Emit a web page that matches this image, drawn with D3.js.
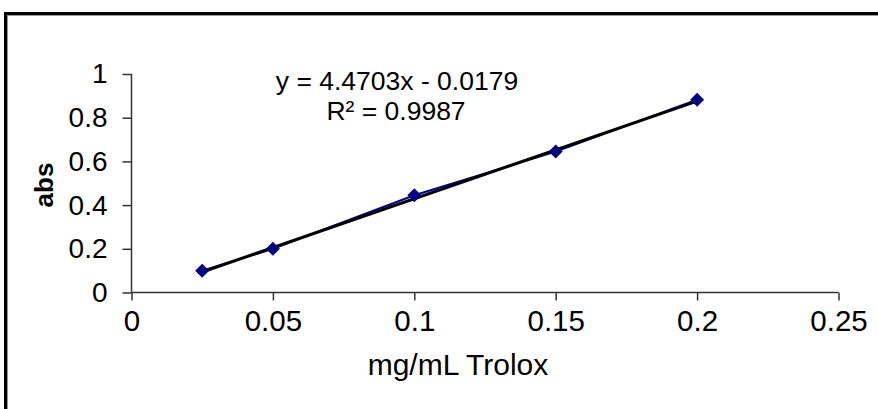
<!DOCTYPE html>
<html>
<head>
<meta charset="utf-8">
<script src="https://cdn.jsdelivr.net/npm/d3@7"></script>
<style>
  body { margin: 0; background: #fff; }
  text { font-family: "Liberation Sans", Arial, sans-serif; fill: #000; }
</style>
</head>
<body>
<div id="chart"></div>
<script>
// standard curve points
const conc = [0.025, 0.05, 0.1, 0.15, 0.2];
const absorb = [0.1, 0.2, 0.445, 0.645, 0.882];

// linear trendline as printed on the chart
const slope = 4.4703;
const intercept = -0.0179;
const r2 = 0.9987;

const xTicks = [0, 0.05, 0.1, 0.15, 0.2, 0.25];
const yTicks = [0, 0.2, 0.4, 0.6, 0.8, 1];

const W = 878, H = 409;
const svg = d3.select('#chart').append('svg')
  .attr('width', W)
  .attr('height', H);

// outer chart frame (runs off the right and bottom edge)
svg.append('rect')
  .attr('x', 5.5).attr('y', 13.5)
  .attr('width', 1000).attr('height', 600)
  .attr('fill', 'none')
  .attr('stroke', '#000')
  .attr('stroke-width', 3);
svg.append('rect')
  .attr('x', 7.5).attr('y', 15.5)
  .attr('width', 1000).attr('height', 600)
  .attr('fill', 'none')
  .attr('stroke', '#999')
  .attr('stroke-width', 1);

// scales
const x = d3.scaleLinear().domain([0, 0.25]).range([131.5, 838.5]);
const y = d3.scaleLinear().domain([0, 1]).range([292.5, 74]);

// axes
const xAxis = svg.append('g')
  .attr('transform', 'translate(0,292.5)')
  .call(d3.axisBottom(x).tickValues(xTicks).tickSize(8).tickPadding(10)
    .tickFormat(d => d3.format('')(d)));
const yAxis = svg.append('g')
  .attr('transform', 'translate(131.5,0)')
  .call(d3.axisLeft(y).tickValues(yTicks).tickSize(9).tickPadding(15)
    .tickFormat(d => d3.format('')(d)));

[xAxis, yAxis].forEach(a => {
  a.select('.domain').attr('stroke', '#333').attr('stroke-width', 1.5);
  a.selectAll('.tick line').attr('stroke', '#333').attr('stroke-width', 1.5);
  a.selectAll('.tick text')
    .attr('font-family', '"Liberation Sans", Arial, sans-serif')
    .attr('fill', '#000');
});
xAxis.selectAll('.tick text').attr('font-size', 29.5);
yAxis.selectAll('.tick text').attr('font-size', 28);
xAxis.select('.domain').attr('d', 'M131.5,0H838.5');
yAxis.select('.domain').attr('d', 'M0,292.5V74');

// data series line
const pts = conc.map((c, i) => [c, absorb[i]]);
svg.append('path')
  .datum(pts)
  .attr('fill', 'none')
  .attr('stroke', '#000080')
  .attr('stroke-width', 2)
  .attr('d', d3.line().x(d => x(d[0])).y(d => y(d[1])));

// trendline
const xExt = d3.extent(conc);
svg.append('path')
  .datum(xExt.map(c => [c, slope * c + intercept]))
  .attr('fill', 'none')
  .attr('stroke', '#000')
  .attr('stroke-width', 3)
  .attr('d', d3.line().x(d => x(d[0])).y(d => y(d[1])));

// diamond markers
svg.selectAll('.pt')
  .data(pts)
  .enter().append('path')
  .attr('class', 'pt')
  .attr('transform', d => 'translate(' + x(d[0]) + ',' + y(d[1]) + ')')
  .attr('d', 'M0,-7L7,0L0,7L-7,0Z')
  .attr('fill', '#000080');

// equation
svg.append('text')
  .attr('x', 397).attr('y', 90)
  .attr('text-anchor', 'middle')
  .attr('font-size', 26.5)
  .text('y = ' + slope + 'x - ' + Math.abs(intercept));
svg.append('text')
  .attr('x', 396).attr('y', 120)
  .attr('text-anchor', 'middle')
  .attr('font-size', 26.5)
  .text('R\u00b2 = ' + r2);

// axis titles
svg.append('text')
  .attr('x', 458).attr('y', 375)
  .attr('text-anchor', 'middle')
  .attr('font-size', 30)
  .text('mg/mL Trolox');
svg.append('text')
  .attr('transform', 'translate(53,185) rotate(-90)')
  .attr('text-anchor', 'middle')
  .attr('font-size', 26)
  .attr('font-weight', 'bold')
  .text('abs');
</script>
</body>
</html>
